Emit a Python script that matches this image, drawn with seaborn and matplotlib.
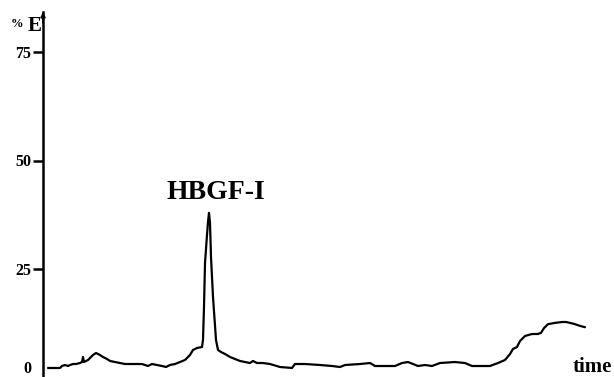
import matplotlib
matplotlib.use("Agg")
import matplotlib.pyplot as plt
import seaborn as sns
import pandas as pd

# time (arbitrary units) and % E
time = [1.0, 3.4, 3.8, 4.4, 5.0, 5.4, 6.0, 6.6, 7.4, 7.8,
        8.0, 8.2, 9.0, 9.4, 10.0, 10.6, 11.4, 12.0, 12.8, 13.4,
        14.4, 15.4, 16.4, 18.4, 19.8, 20.4, 21.0, 21.8, 22.8, 23.8,
        24.6, 25.4, 26.4, 27.4, 28.4, 29.4, 30.0, 30.8, 31.8, 32.0,
        32.2, 32.4, 32.8, 33.0, 33.2, 33.4, 33.6, 34.0, 34.6, 35.0,
        35.6, 36.4, 37.4, 38.4, 39.4, 40.4, 41.4, 42.0, 42.8, 44.0,
        45.4, 47.4, 49.8, 50.4, 52.4, 55.4, 57.8, 59.4, 60.4, 63.4,
        65.4, 66.4, 70.4, 71.8, 73.0, 74.0, 75.0, 76.4, 77.8, 79.4,
        82.4, 84.4, 85.8, 89.4, 91.0, 92.4, 93.4, 94.0, 94.8, 95.4,
        96.4, 97.8, 99.0, 99.6, 100.2, 101.0, 102.4, 103.8, 104.6, 105.4,
        106.4, 107.4, 108.4]
pct_e = [2.08, 2.08, 2.54, 2.77, 2.54, 2.77, 3.00, 3.00, 3.23, 3.46,
         4.62, 3.46, 3.93, 4.39, 5.08, 5.54, 5.08, 4.62, 4.16, 3.70,
         3.46, 3.23, 3.00, 3.00, 3.00, 2.77, 2.54, 3.00, 2.77, 2.54,
         2.31, 2.77, 3.00, 3.46, 3.93, 5.08, 6.24, 6.70, 6.93, 8.55,
         16.2, 26.3, 32.8, 35.8, 37.9, 35.6, 27.7, 18.5, 8.55, 6.24,
         5.77, 5.31, 4.62, 4.16, 3.70, 3.46, 3.23, 3.70, 3.23, 3.23,
         3.00, 2.31, 2.08, 3.00, 3.00, 2.77, 2.54, 2.31, 2.77, 3.00,
         3.23, 2.54, 2.54, 3.23, 3.46, 3.00, 2.54, 2.77, 2.54, 3.23,
         3.46, 3.23, 2.54, 2.54, 3.23, 3.93, 5.31, 6.47, 6.93, 8.31,
         9.47, 9.93, 9.93, 10.2, 11.3, 12.2, 12.5, 12.7, 12.7, 12.5,
         12.2, 11.8, 11.5]
yticks = [0, 25, 50, 75]
peak_label = "HBGF-I"
peak_pos = (34.6, 42.5)

df = pd.DataFrame({"time": time, "pct": pct_e})

sns.set_style("white")
plt.rcParams["font.family"] = ["Liberation Serif", "DejaVu Serif"]
plt.rcParams["text.color"] = "black"
plt.rcParams["ytick.color"] = "black"

fig = plt.figure(figsize=(6.14, 3.77), dpi=100)
W, H = 614, 377
PPU = 4.33   # pixels per % unit
ax = fig.add_axes([43 / W, 0, (600 - 43) / W, (377 - 12) / H])

sns.lineplot(data=df, x="time", y="pct", ax=ax, color="black", linewidth=1.6,
             estimator=None, sort=False)

ax.set_xlim(0, (600 - 43) / 5)
ax.set_ylim(0, (377 - 12) / PPU)

for s in ["top", "right", "bottom"]:
    ax.spines[s].set_visible(False)
ax.spines["left"].set_linewidth(1.8)
ax.spines["left"].set_color("black")

ax.set_xticks([])
ax.set_yticks(yticks)
ax.set_yticklabels([str(v) for v in yticks], fontsize=11.5, fontweight="bold",
                   color="black")
ax.tick_params(axis="y", direction="out", length=7, width=1.8, color="black", pad=1.5,
               left=True)
# the 0 label sits just above the bottom edge, without a tick mark
zero_tick = ax.yaxis.get_major_ticks()[0]
zero_tick.tick1line.set_visible(False)
zero_tick.label1.set_verticalalignment("bottom")
ax.set_xlabel("")
ax.set_ylabel("")

# arrowhead on y axis
ax.annotate("", xy=(0, 1.0), xytext=(0, 0.97), xycoords="axes fraction",
            arrowprops=dict(arrowstyle="-|>", color="black", lw=1.2,
                            mutation_scale=7, shrinkA=0, shrinkB=0))

ax.text(peak_pos[0], peak_pos[1], peak_label, ha="center", va="center",
        fontsize=20, fontweight="bold", color="black")

fig.text(23 / W, 1 - 24 / H, "%", ha="right", va="center", fontsize=9,
         fontweight="bold", color="black")
fig.text(35 / W, 1 - 26 / H, "E", ha="center", va="center", fontsize=15,
         fontweight="bold", color="black")
fig.text(592 / W, 1 - 367 / H, "time", ha="center", va="center", fontsize=15,
         fontweight="bold", color="black")

fig.savefig("out.png", dpi=100)
